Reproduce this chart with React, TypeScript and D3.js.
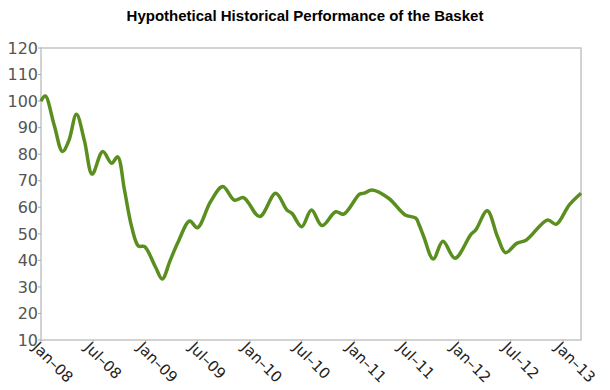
import React from 'react';
import * as d3 from 'd3';

const width = 610
const height = 390
const margin = { top: 48, right: 29, bottom: 50, left: 41 }

const title = 'Hypothetical Historical Performance of the Basket'

// values
const dates = [
  '2008-01-01', '2008-01-16', '2008-02-16', '2008-03-16', '2008-04-07', '2008-05-04',
  '2008-06-01', '2008-06-28', '2008-08-04', '2008-09-04', '2008-09-25', '2008-10-19',
  '2008-11-13', '2008-12-07', '2008-12-28', '2009-02-04', '2009-02-28', '2009-03-28',
  '2009-04-25', '2009-06-04', '2009-07-01', '2009-08-16', '2009-09-28', '2009-11-07',
  '2009-12-10', '2010-02-04', '2010-04-01', '2010-05-10', '2010-05-28', '2010-07-01',
  '2010-08-04', '2010-09-10', '2010-10-28', '2010-11-25', '2011-01-19', '2011-02-04',
  '2011-03-04', '2011-05-01', '2011-06-28', '2011-08-04', '2011-08-16', '2011-09-01',
  '2011-10-04', '2011-11-07', '2011-12-19', '2012-02-13', '2012-03-01', '2012-04-10',
  '2012-05-16', '2012-06-13', '2012-07-22', '2012-08-25', '2012-11-07', '2012-12-07',
  '2013-01-22', '2013-03-04',
]
const values = [
  100, 101.9, 91, 81, 85, 95,
  85, 72.5, 81, 76.6, 79, 66.5,
  52.7, 45.4, 45.2, 37.6, 33, 40,
  47, 54.8, 52.3, 62.1, 67.8, 62.7,
  63.6, 56.5, 65.3, 59, 57.7, 52.7,
  59, 53.1, 58.3, 57.4, 64.9, 65.3,
  66.5, 63.4, 57.1, 55.9, 53.3, 48.9,
  40.5, 47.2, 40.8, 49.8, 51.5, 58.7,
  48.9, 42.9, 46.4, 47.7, 55.2, 53.6,
  60.9, 65.3,
]
const yTicks = [10, 20, 30, 40, 50, 60, 70, 80, 90, 100, 110, 120]
const xTickDates = [
  '2008-01-01', '2008-07-01', '2009-01-01', '2009-07-01', '2010-01-01', '2010-07-01',
  '2011-01-01', '2011-07-01', '2012-01-01', '2012-07-01', '2013-01-01',
]

const parse = d3.timeParse('%Y-%m-%d')
const fmt = d3.timeFormat('%b–%y')

export default function App() {
  const points = dates.map((d, i) => ({ date: parse(d) as Date, value: values[i] }))

  const x = d3
    .scaleTime()
    .domain(d3.extent(points, d => d.date) as [Date, Date])
    .range([margin.left, width - margin.right])
  const y = d3
    .scaleLinear()
    .domain([10, 120])
    .range([height - margin.bottom, margin.top])

  const line = d3
    .line<{ date: Date; value: number }>()
    .x(d => x(d.date))
    .y(d => y(d.value))
    .curve(d3.curveCatmullRom.alpha(0.5))

  const x0 = margin.left
  const x1 = width - margin.right
  const y0 = height - margin.bottom
  const y1 = margin.top

  return (
    <svg width={width} height={height} style={{ position: 'absolute', left: 0, top: 0 }}>
      <rect width={width} height={height} fill="white" />
      <text
        x={width / 2}
        y={21}
        textAnchor="middle"
        style={{ fontFamily: 'Liberation Sans, Arial', fontWeight: 'bold', fontSize: '15px', fill: '#000' }}
      >
        {title}
      </text>

      {/* plot frame */}
      <rect x={x0} y={y1} width={x1 - x0} height={y0 - y1} fill="none" stroke="#c4c4c4" strokeWidth={1.5} />

      {/* y axis */}
      {yTicks.map(t => (
        <g key={t}>
          <line x1={x0 - 3} x2={x0} y1={y(t)} y2={y(t)} stroke="#aaa" />
          <text
            x={x0 - 3}
            y={y(t)}
            dy="0.36em"
            textAnchor="end"
            style={{ fontFamily: 'DejaVu Sans', fontSize: '16px', fill: '#555' }}
          >
            {t}
          </text>
        </g>
      ))}

      {/* x axis */}
      {xTickDates.map(s => {
        const d = parse(s) as Date
        const px = x(d)
        return (
          <g key={s}>
            <line x1={px} x2={px} y1={y0} y2={y0 + 3} stroke="#aaa" />
            <text
              transform={`translate(${px - 2},${y0 + 1}) rotate(45)`}
              textAnchor="start"
              dy="0.7em"
              style={{ fontFamily: 'DejaVu Sans', fontSize: '15px', fill: '#222' }}
            >
              {fmt(d)}
            </text>
          </g>
        )
      })}

      <path d={line(points) || ''} fill="none" stroke="#5a8f1f" strokeWidth={3.5} strokeLinejoin="round" />
    </svg>
  )
}
